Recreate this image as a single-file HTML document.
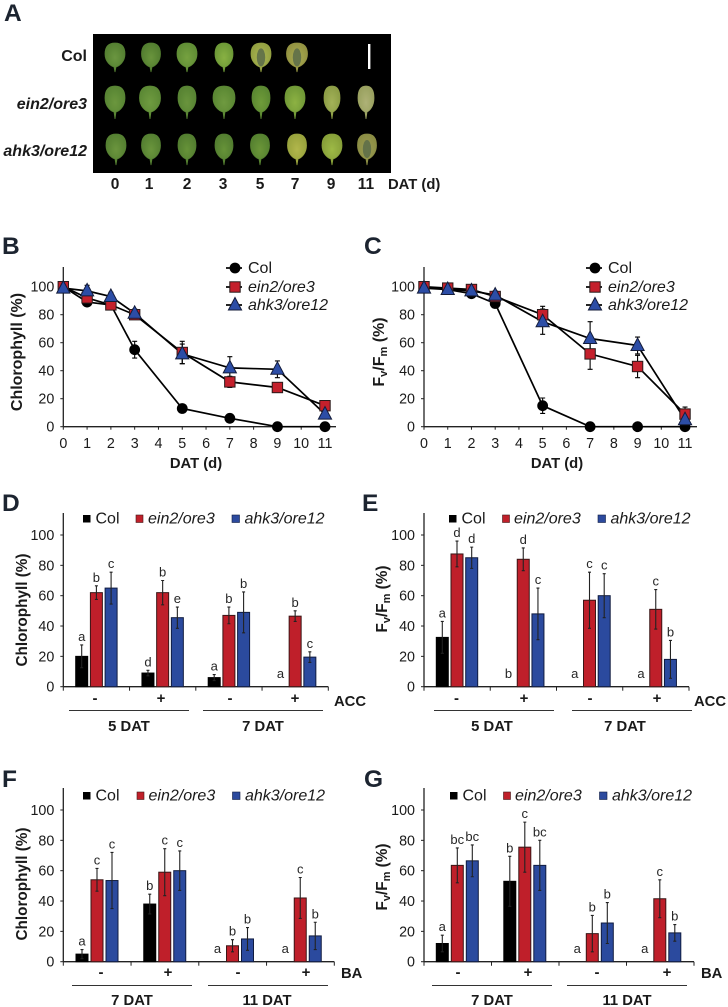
<!DOCTYPE html>
<html lang="en">
<head>
<meta charset="utf-8">
<title>Senescence phenotypes</title>
<style>
html,body{margin:0;padding:0;background:#fff;}
svg{display:block;font-family:"Liberation Sans",sans-serif;fill:#1a1a1a;filter:blur(.3px);}
.pl{font-size:24.5px;font-weight:bold;fill:#1c2430;}
.b{font-weight:bold;font-size:14.8px;}
.yt{font-weight:bold;font-size:15.3px;text-anchor:middle;}
.lg{font-size:16px;}
.lgi{font-size:16px;font-style:italic;}
.pm{font-weight:bold;font-size:15px;text-anchor:middle;}
.c{font-weight:bold;font-size:14.8px;text-anchor:middle;}
.rl{font-weight:bold;font-size:16px;text-anchor:end;}
.tk{font-size:14.3px;}
.sig{font-size:13px;text-anchor:middle;fill:#262626;}
</style>
</head>
<body>
<svg id="fig" xmlns="http://www.w3.org/2000/svg" width="728" height="1007" viewBox="0 0 728 1007">
<defs id="defs"></defs>

<!-- Panel A -->
<text class="pl" x="4" y="21">A</text>
<rect x="93" y="34" width="298" height="139" fill="#000"/>
<g id="leaves" opacity=".93"></g>
<rect x="368" y="44" width="2.4" height="25" fill="#fff"/>
<text class="rl" x="87" y="61">Col</text>
<text class="rl" x="87" y="109" font-style="italic">ein2/ore3</text>
<text class="rl" x="87" y="156" font-style="italic">ahk3/ore12</text>
<g id="leafDays"></g>
<text class="b" x="388" y="189">DAT (d)</text>

<!-- Panel B -->
<text class="pl" x="2" y="254">B</text>
<g id="panelB"></g>
<text class="yt" transform="rotate(-90 22 352)" x="22" y="352" style="font-size:16px">Chlorophyll (%)</text>
<text class="c" x="196" y="468">DAT (d)</text>
<text class="lg" x="248" y="273">Col</text>
<text class="lgi" x="248" y="292">ein2/ore3</text>
<text class="lgi" x="248" y="310">ahk3/ore12</text>

<!-- Panel C -->
<text class="pl" x="364" y="254">C</text>
<g id="panelC"></g>
<text class="yt" transform="rotate(-90 384 352)" x="384" y="352" style="font-size:16px">F<tspan font-size="11" dy="3">v</tspan><tspan dy="-3">/F</tspan><tspan font-size="11" dy="3">m</tspan><tspan dy="-3"> (%)</tspan></text>
<text class="c" x="557" y="468">DAT (d)</text>
<text class="lg" x="608" y="273">Col</text>
<text class="lgi" x="608" y="292">ein2/ore3</text>
<text class="lgi" x="608" y="310">ahk3/ore12</text>

<!-- Panel D -->
<text class="pl" x="2" y="511">D</text>
<g id="panelD"></g>
<text class="yt" transform="rotate(-90 27 610)" x="27" y="610">Chlorophyll (%)</text>
<rect x="83" y="515" width="7.5" height="7.5" fill="#000"/>
<text class="lg" x="95.5" y="523.5">Col</text>
<rect x="136" y="515" width="7" height="7.5" fill="#c0202a" stroke="#401818" stroke-width=".6"/>
<text class="lgi" x="148" y="523.5">ein2/ore3</text>
<rect x="232" y="515" width="7.5" height="7.5" fill="#2c4a9e" stroke="#101c40" stroke-width=".6"/>
<text class="lgi" x="244.5" y="523.5">ahk3/ore12</text>
<text class="pm" x="95" y="703">-</text>
<text class="pm" x="161" y="703">+</text>
<text class="pm" x="230" y="703">-</text>
<text class="pm" x="295" y="703">+</text>
<text class="b" x="334" y="706">ACC</text>
<line x1="69" x2="189" y1="710.5" y2="710.5" stroke="#333"/>
<line x1="203" x2="323" y1="710.5" y2="710.5" stroke="#333"/>
<text class="c" x="129" y="731">5 DAT</text>
<text class="c" x="263" y="731">7 DAT</text>

<!-- Panel E -->
<text class="pl" x="362" y="511">E</text>
<g id="panelE"></g>
<text class="yt" transform="rotate(-90 387 599)" x="387" y="599">F<tspan font-size="11" dy="3">v</tspan><tspan dy="-3">/F</tspan><tspan font-size="11" dy="3">m</tspan><tspan dy="-3"> (%)</tspan></text>
<rect x="449" y="515" width="7.5" height="7.5" fill="#000"/>
<text class="lg" x="461.5" y="523.5">Col</text>
<rect x="502.5" y="515" width="7" height="7.5" fill="#c0202a" stroke="#401818" stroke-width=".6"/>
<text class="lgi" x="514" y="523.5">ein2/ore3</text>
<rect x="598" y="515" width="7.5" height="7.5" fill="#2c4a9e" stroke="#101c40" stroke-width=".6"/>
<text class="lgi" x="610.5" y="523.5">ahk3/ore12</text>
<text class="pm" x="456.5" y="703">-</text>
<text class="pm" x="524" y="703">+</text>
<text class="pm" x="590" y="703">-</text>
<text class="pm" x="657" y="703">+</text>
<text class="b" x="694" y="706">ACC</text>
<line x1="434" x2="554" y1="710.5" y2="710.5" stroke="#333"/>
<line x1="572" x2="692" y1="710.5" y2="710.5" stroke="#333"/>
<text class="c" x="492" y="731">5 DAT</text>
<text class="c" x="625" y="731">7 DAT</text>

<!-- Panel F -->
<text class="pl" x="2" y="787">F</text>
<g id="panelF"></g>
<text class="yt" transform="rotate(-90 27 884)" x="27" y="884">Chlorophyll (%)</text>
<rect x="83" y="792" width="7.5" height="7.5" fill="#000"/>
<text class="lg" x="95.5" y="800.5">Col</text>
<rect x="137" y="792" width="7" height="7.5" fill="#c0202a" stroke="#401818" stroke-width=".6"/>
<text class="lgi" x="148.5" y="800.5">ein2/ore3</text>
<rect x="232.5" y="792" width="7.5" height="7.5" fill="#2c4a9e" stroke="#101c40" stroke-width=".6"/>
<text class="lgi" x="245" y="800.5">ahk3/ore12</text>
<text class="pm" x="101" y="977">-</text>
<text class="pm" x="168" y="977">+</text>
<text class="pm" x="238" y="977">-</text>
<text class="pm" x="306" y="977">+</text>
<text class="b" x="341" y="978">BA</text>
<line x1="72" x2="192" y1="985.5" y2="985.5" stroke="#333"/>
<line x1="208" x2="328" y1="985.5" y2="985.5" stroke="#333"/>
<text class="c" x="132" y="1005">7 DAT</text>
<text class="c" x="267" y="1005">11 DAT</text>

<!-- Panel G -->
<text class="pl" x="364" y="787">G</text>
<g id="panelG"></g>
<text class="yt" transform="rotate(-90 387 877)" x="387" y="877">F<tspan font-size="11" dy="3">v</tspan><tspan dy="-3">/F</tspan><tspan font-size="11" dy="3">m</tspan><tspan dy="-3"> (%)</tspan></text>
<rect x="450" y="792" width="7.5" height="7.5" fill="#000"/>
<text class="lg" x="462.5" y="800.5">Col</text>
<rect x="503.5" y="792" width="7" height="7.5" fill="#c0202a" stroke="#401818" stroke-width=".6"/>
<text class="lgi" x="515" y="800.5">ein2/ore3</text>
<rect x="599.5" y="792" width="7.5" height="7.5" fill="#2c4a9e" stroke="#101c40" stroke-width=".6"/>
<text class="lgi" x="612" y="800.5">ahk3/ore12</text>
<text class="pm" x="458" y="977">-</text>
<text class="pm" x="528" y="977">+</text>
<text class="pm" x="597" y="977">-</text>
<text class="pm" x="667" y="977">+</text>
<text class="b" x="701" y="978">BA</text>
<line x1="432" x2="552" y1="985.5" y2="985.5" stroke="#333"/>
<line x1="567" x2="687" y1="985.5" y2="985.5" stroke="#333"/>
<text class="c" x="492" y="1005">7 DAT</text>
<text class="c" x="627" y="1005">11 DAT</text>
</svg>

<script>
// ---- shared categories and tick labels ----
const yTicks = [0, 20, 40, 60, 80, 100];
const dayTicks = [0, 1, 2, 3, 4, 5, 6, 7, 8, 9, 10, 11];
const measuredDays = [0, 1, 2, 3, 5, 7, 9, 11];
const genotypes = ['col', 'ein2-ore3', 'ahk3-ore12'];
const photoDays = ['0', '1', '2', '3', '5', '7', '9', '11'];

// ---- panel B: chlorophyll time course ----
const bCol = [100, 89, 87, 55, 13, 6, 0, 0];
const bColErr = [3, 2, 2, 6, 2, 1, 0, 0];
const bEin = [100, 92, 87, 80, 53, 32, 28, 15];
const bEinErr = [3, 3, 2, 3, 8, 4, 3, 2];
const bAhk = [99, 97, 93, 81, 52, 42, 41, 9];
const bAhkErr = [3, 4, 3, 3, 7, 8, 6, 2];

// ---- panel C: Fv/Fm time course ----
const cCol = [100, 98, 95, 88, 15, 0, 0, 0];
const cColErr = [1, 2, 2, 3, 5.5, 0, 0, 0];
const cEin = [100, 99, 98, 93, 80, 52, 43, 9];
const cEinErr = [1, 2, 2, 3, 6, 11, 8, 5];
const cAhk = [99, 98, 97, 94, 75, 63, 58, 5];
const cAhkErr = [1, 2, 2, 3, 9, 12, 6, 3];

// ---- panel D: chlorophyll, ACC ----
const dCol = [20, 9, 6, 0];
const dColErr = [7.5, 1.8, 2, 0];
const dEin = [62, 62, 47, 46.5];
const dEinErr = [4.5, 8, 5.5, 3.5];
const dAhk = [65, 45.5, 49, 19.5];
const dAhkErr = [10.5, 7, 13.5, 3.5];
const dSig = [['a', 'b', 'c'], ['d', 'b', 'e'], ['a', 'b', 'b'], ['a', 'b', 'c']];

// ---- panel E: Fv/Fm, ACC ----
const eCol = [32.5, 0, 0, 0];
const eColErr = [10.5, 0, 0, 0];
const eEin = [87.5, 84, 57, 51];
const eEinErr = [8.5, 7.5, 18.5, 13];
const eAhk = [85, 48, 60, 18];
const eAhkErr = [7, 17, 14.5, 12.5];
const eSig = [['a', 'd', 'd'], ['b', 'd', 'c'], ['a', 'c', 'c'], ['a', 'c', 'b']];

// ---- panel F: chlorophyll, BA ----
const fCol = [5, 38, 0, 0];
const fColErr = [3, 6.5, 0, 0];
const fEin = [54, 59, 10.5, 42];
const fEinErr = [7.5, 15.5, 4, 13.5];
const fAhk = [53.5, 60, 15, 17];
const fAhkErr = [18.5, 13, 7.5, 9];
const fSig = [['a', 'c', 'c'], ['b', 'c', 'c'], ['a', 'b', 'b'], ['a', 'c', 'b']];

// ---- panel G: Fv/Fm, BA ----
const gCol = [12, 53, 0, 0];
const gColErr = [5.5, 16.5, 0, 0];
const gEin = [63.5, 75.5, 18.5, 41.5];
const gEinErr = [11.5, 16.5, 12, 12.5];
const gAhk = [66.5, 63.5, 25.5, 19];
const gAhkErr = [10.5, 16.5, 13.5, 5.5];
const gSig = [['a', 'bc', 'bc'], ['b', 'c', 'bc'], ['a', 'b', 'b'], ['a', 'c', 'b']];

const NS = 'http://www.w3.org/2000/svg';
function mk(parent, tag, attrs, txt) {
  const el = document.createElementNS(NS, tag);
  for (const k in attrs) el.setAttribute(k, attrs[k]);
  if (txt !== undefined) el.textContent = txt;
  parent.appendChild(el);
  return el;
}

function drawYAxis(g, x, y0, k, top) {
  const axis = mk(g, 'line', {x1: x, x2: x, y1: top, y2: y0, stroke: '#222', 'stroke-width': 1.3});
  
  
  yTicks.forEach(function (t) {
    const y = y0 - t * k;
    const tick = mk(g, 'line', {x1: x - 3, x2: x, y1: y, y2: y, stroke: '#222', 'stroke-width': 1});
    
    
    const lab = mk(g, 'text', {x: x - 9, y: y + 5, 'text-anchor': 'end', 'class': 'tk'}, String(t));
    
    
  });
}

function errBar(g, x, y, e, color, capW) {
  const p = mk(g, 'path', {
    d: 'M' + x + ' ' + (y - e) + 'V' + (y + e) + 'M' + (x - capW) + ' ' + (y - e) + 'h' + (2 * capW) + 'M' + (x - capW) + ' ' + (y + e) + 'h' + (2 * capW),
    stroke: color, 'stroke-width': 1.1, fill: 'none'
  });
  
  
}

function marker(g, kind, x, y, name) {
  let m;
  if (kind === 0) {
    m = mk(g, 'circle', {cx: x, cy: y, r: 5.4, fill: '#000'});
  } else if (kind === 1) {
    m = mk(g, 'rect', {x: x - 5.2, y: y - 5.2, width: 10.4, height: 10.4, fill: '#c4202c', stroke: '#2a1a1a', 'stroke-width': 1});
  } else {
    m = mk(g, 'path', {d: 'M' + x + ' ' + (y - 7.5) + 'L' + (x + 6.6) + ' ' + (y + 5) + 'H' + (x - 6.6) + 'Z', fill: '#2c4da6', stroke: '#141c3a', 'stroke-width': 1});
  }
  
  
}

function lineChart(id, x0, xEnd, dx, y0, k, top, series, errors, legX, legLine) {
  const g = document.getElementById(id);
  const X = function (d) { return x0 + d * dx; };
  const Y = function (v) { return y0 - v * k; };
  drawYAxis(g, x0, y0, k, top);
  const xAxis = mk(g, 'line', {x1: x0, x2: xEnd, y1: y0, y2: y0, stroke: '#222', 'stroke-width': 1.3});
  
  
  dayTicks.forEach(function (d) {
    const t = mk(g, 'line', {x1: X(d), x2: X(d), y1: y0, y2: y0 + 3, stroke: '#222'});
    
    
    const l = mk(g, 'text', {x: X(d), y: 448, 'text-anchor': 'middle', 'class': 'tk'}, String(d));
    
    
  });
  series.forEach(function (vals, s) {
    const pts = vals.map(function (v, i) { return X(measuredDays[i]) + ',' + Y(v); }).join(' ');
    const pl = mk(g, 'polyline', {points: pts, fill: 'none', stroke: '#000', 'stroke-width': 1.7});
    
    
    vals.forEach(function (v, i) {
      if (errors[s][i] > 0) errBar(g, X(measuredDays[i]), Y(v), errors[s][i] * k, '#000', 2.5);
    });
  });
  series.forEach(function (vals, s) {
    vals.forEach(function (v, i) {
      marker(g, s, X(measuredDays[i]), Y(v), genotypes[s] + '-point');
    });
  });
  [268, 287, 305].forEach(function (y, s) {
    const ln = mk(g, 'line', {x1: legLine, x2: legLine + 16, y1: y, y2: y, stroke: '#000', 'stroke-width': 1.7});
    
    
    marker(g, s, legX, y, 'legend-marker');
  });
}

function barChart(id, x0, xEnd, pitch, first, gap, y0, k, top, series, errors, sig) {
  const g = document.getElementById(id);
  const Y = function (v) { return y0 - v * k; };
  const colors = ['#000', '#bf1f2a', '#2b4a9e'];
  const edges = ['#000', '#3a1616', '#101c40'];
  drawYAxis(g, x0, y0, k, top);
  const xAxis = mk(g, 'line', {x1: x0, x2: xEnd, y1: y0, y2: y0, stroke: '#222', 'stroke-width': 1.3});
  
  
  for (let i = 0; i <= series[0].length; i++) {
    const t = mk(g, 'line', {x1: x0 + i * pitch, x2: x0 + i * pitch, y1: y0, y2: y0 + 4, stroke: '#222'});
    
    
  }
  series.forEach(function (vals, s) {
    vals.forEach(function (v, i) {
      const cx = first + i * pitch + s * gap;
      const err = errors[s][i];
      if (v > 0) {
        const r = mk(g, 'rect', {x: cx - 6, y: Y(v), width: 12, height: v * k, fill: colors[s], stroke: edges[s], 'stroke-width': 1});
        
        
      }
      if (err > 0) errBar(g, cx, Y(v), err * k, '#222', 1.5);
      const ly = v > 0 ? Y(v + err) - 4 : y0 - 8.5;
      const lab = mk(g, 'text', {x: cx, y: ly, 'class': 'sig'}, sig[i][s]);
      
      
    });
  });
}

// ---- panel A: leaf photo (illustrative shapes) ----
const leafRows = [
  {top: 43, bottom: 67, tip: 72},
  {top: 86, bottom: 112, tip: 119},
  {top: 134, bottom: 159, tip: 165}
];
const leafCenters = [
  [115, 151, 187, 224, 261, 297],
  [115, 150, 187, 224, 261, 295, 332, 366],
  [116, 151, 187, 224, 260, 297, 332, 367]
];
const leafWidths = [
  [20, 19, 20, 18, 20, 21],
  [20, 21, 18, 22, 18, 20, 16, 16],
  [20, 19, 18, 18, 19, 19, 20, 19]
];
const leafColors = [
  [['#73a245', '#5c8a36'], ['#72a042', '#5a8834'], ['#7fae45', '#68983a'], ['#93bf48', '#76a53c'], ['#b9c45a', '#a0ae48'], ['#b5ba58', '#a09f48']],
  [['#74a343', '#5f8f38'], ['#78a845', '#64943a'], ['#72a042', '#5f8e38'], ['#78a645', '#629238'], ['#78a83f', '#639336'], ['#98c048', '#7aa53c'], ['#b0c060', '#98aa4c'], ['#bcc080', '#a6ae68']],
  [['#74a143', '#5c8a36'], ['#73a142', '#5c8a36'], ['#6f9e3e', '#5a8834'], ['#6f9e3e', '#5a8834'], ['#74a23e', '#5d8c34'], ['#c0c552', '#a5b042'], ['#aac84c', '#92ad3e'], ['#a8aa5a', '#96984a']]
];
const blotches = [[0, 4], [0, 5], [2, 7]];

function drawLeaves() {
  const g = document.getElementById('leaves');
  const defs = document.getElementById('defs');
  leafCenters.forEach(function (row, r) {
    const R = leafRows[r];
    row.forEach(function (cx, c) {
      const w = leafWidths[r][c] / 2;
      const id = 'lf' + r + '_' + c;
      const grad = mk(defs, 'radialGradient', {id: id});
      mk(grad, 'stop', {offset: '0%', 'stop-color': leafColors[r][c][0]});
      mk(grad, 'stop', {offset: '100%', 'stop-color': leafColors[r][c][1]});
      const h = R.bottom - R.top;
      const d = 'M' + cx + ' ' + R.top +
        'C' + (cx + w * .8) + ' ' + R.top + ' ' + (cx + w) + ' ' + (R.top + h * .22) + ' ' + (cx + w) + ' ' + (R.top + h * .46) +
        'C' + (cx + w) + ' ' + (R.top + h * .78) + ' ' + (cx + w * .45) + ' ' + (R.bottom - 1) + ' ' + (cx + 1) + ' ' + R.bottom +
        'L' + cx + ' ' + R.tip + 'L' + (cx - 1) + ' ' + R.bottom +
        'C' + (cx - w * .45) + ' ' + (R.bottom - 1) + ' ' + (cx - w) + ' ' + (R.top + h * .78) + ' ' + (cx - w) + ' ' + (R.top + h * .46) +
        'C' + (cx - w) + ' ' + (R.top + h * .22) + ' ' + (cx - w * .8) + ' ' + R.top + ' ' + cx + ' ' + R.top + 'Z';
      const leaf = mk(g, 'path', {d: d, fill: 'url(#' + id + ')', stroke: leafColors[r][c][1], 'stroke-width': 0.8});
      
      
    });
  });
  blotches.forEach(function (b) {
    const R = leafRows[b[0]];
    const cx = leafCenters[b[0]][b[1]];
    const bl = mk(g, 'ellipse', {cx: cx, cy: R.top + (R.bottom - R.top) * .6, rx: 4.2, ry: 9, fill: '#66774f', opacity: .9});
    
    
  });
  const days = document.getElementById('leafDays');
  [115, 149, 187, 223, 260, 295, 331, 366].forEach(function (x, i) {
    const t = mk(days, 'text', {x: x, y: 189, 'class': 'c', style: 'font-size:15.5px'}, photoDays[i]);
    
    
  });
}

drawLeaves();
lineChart('panelB', 63.3, 336, 23.79, 426.7, 1.4, 267, [bCol, bEin, bAhk], [bColErr, bEinErr, bAhkErr], 235, 226);
lineChart('panelC', 424, 697, 23.73, 426.7, 1.4, 267, [cCol, cEin, cAhk], [cColErr, cEinErr, cAhkErr], 595, 586);
barChart('panelD', 63.3, 328.3, 66.25, 81.7, 14.7, 686.7, 1.517, 513, [dCol, dEin, dAhk], [dColErr, dEinErr, dAhkErr], dSig);
barChart('panelE', 424, 689, 66.25, 442.3, 14.7, 686.7, 1.517, 513, [eCol, eEin, eAhk], [eColErr, eEinErr, eAhkErr], eSig);
barChart('panelF', 63.3, 334.3, 67.75, 82, 15, 961.7, 1.517, 788, [fCol, fEin, fAhk], [fColErr, fEinErr, fAhkErr], fSig);
barChart('panelG', 424, 694, 67.5, 442.3, 15, 961.7, 1.517, 788, [gCol, gEin, gAhk], [gColErr, gEinErr, gAhkErr], gSig);
</script>
</body>
</html>
